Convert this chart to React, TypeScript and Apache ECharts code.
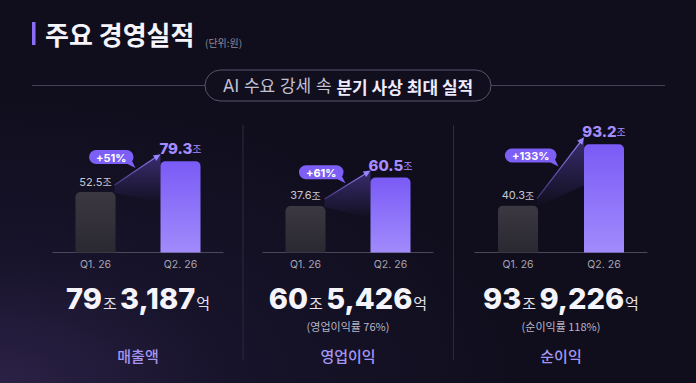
import React, { useEffect, useRef } from "react";
import * as echarts from "echarts";

// Quarterly figures (unit: 조원)
const categories = ["Q1. 26", "Q2. 26"];
const revenue = [52.5, 79.3];
const operatingProfit = [37.6, 60.5];
const netProfit = [40.3, 93.2];

const growthLabels = ["+51%", "+61%", "+133%"];
const panelTitles = ["매출액", "영업이익", "순이익"];
const totalJo = ["79", "60", "93"];
const totalEok = ["3,187", "5,426", "9,226"];
const marginNotes = ["", "(영업이익률 76%)", "(순이익률 118%)"];

const FONT = "Inter, 'Noto Sans CJK KR', 'Noto Sans', sans-serif";
const KR = "'Noto Sans CJK KR', 'Noto Sans', sans-serif";
const PURPLE = "#7d5ff5";
const LAVENDER = "#a68cff";

const panels = [
  { left: 53, width: 170, max: 115 },
  { left: 263, width: 170, max: 107 },
  { left: 475, width: 172, max: 114 },
];
const GRID_TOP = 120;
const GRID_H = 132.5;

function measure(text: string, font: string): number {
  const ctx = document.createElement("canvas").getContext("2d");
  if (!ctx) return text.length * 7;
  ctx.font = font;
  return ctx.measureText(text).width;
}

export default function App() {
  const ref = useRef<HTMLDivElement>(null);

  useEffect(() => {
    if (!ref.current) return;
    const chart = echarts.init(ref.current, null, { renderer: "svg" });
    const seriesData = [revenue, operatingProfit, netProfit];

    const q1Bar = {
      color: new echarts.graphic.LinearGradient(0, 0, 0, 1, [
        { offset: 0, color: "#3b3842" },
        { offset: 1, color: "#2a2830" },
      ]),
      borderRadius: [5, 5, 0, 0],
    };
    const q2Bar = {
      color: new echarts.graphic.LinearGradient(0, 0, 0, 1, [
        { offset: 0, color: "#7a5bf6" },
        { offset: 1, color: "#a18bfc" },
      ]),
      borderRadius: [5, 5, 0, 0],
    };

    chart.setOption({
      animation: false,
      backgroundColor: {
        type: "radial",
        x: 0,
        y: 1,
        r: 0.75,
        colorStops: [
          { offset: 0, color: "#2b2146" },
          { offset: 0.45, color: "#17132a" },
          { offset: 1, color: "#100e1d" },
        ],
      },
      textStyle: { fontFamily: FONT },
      grid: panels.map((p) => ({
        left: p.left,
        width: p.width,
        top: GRID_TOP,
        height: GRID_H,
      })),
      xAxis: panels.map((_, i) => ({
        type: "category",
        gridIndex: i,
        data: categories,
        axisLine: { lineStyle: { color: "#4b4959", width: 1 } },
        axisTick: { show: false },
        axisLabel: { color: "#a7a4b2", fontSize: 10.5, margin: 7, fontFamily: FONT },
      })),
      yAxis: panels.map((p, i) => ({
        type: "value",
        gridIndex: i,
        min: 0,
        max: p.max,
        show: false,
        splitLine: { show: false },
      })),
      series: seriesData.map((vals, i) => ({
        type: "bar",
        xAxisIndex: i,
        yAxisIndex: i,
        barWidth: 40,
        data: [
          {
            value: vals[0],
            itemStyle: q1Bar,
            label: {
              show: true,
              position: "top",
              distance: 5,
              formatter: `{v|${vals[0]}}{u|조}`,
              rich: {
                v: { fontSize: 11, color: "#c9c6d1", fontFamily: FONT },
                u: { fontSize: 10, color: "#c9c6d1", fontFamily: KR },
              },
            },
          },
          {
            value: vals[1],
            itemStyle: q2Bar,
            label: {
              show: true,
              position: "top",
              distance: 5,
              formatter: `{v|${vals[1]}}{u|조}`,
              rich: {
                v: { fontSize: 15, fontWeight: 800, color: LAVENDER, fontFamily: FONT },
                u: { fontSize: 10, color: LAVENDER, fontFamily: KR },
              },
            },
          },
        ],
      })),
    });

    const graphics: any[] = [
      // title
      { type: "rect", shape: { x: 32, y: 22, width: 3.5, height: 23 }, style: { fill: "#8b6cf7" } },
      {
        type: "text",
        x: 45,
        y: 33,
        style: {
          text: "주요 경영실적",
          font: `bold 26px ${KR}`,
          fill: "#f5f4fa",
          textVerticalAlign: "middle",
        },
      },
      {
        type: "text",
        x: 205,
        y: 42,
        style: {
          text: "(단위:원)",
          font: `10px ${KR}`,
          fill: "#8e8b9c",
          textVerticalAlign: "middle",
        },
      },
      // subtitle pill
      { type: "line", shape: { x1: 32, y1: 85.5, x2: 205, y2: 85.5 }, style: { stroke: "#45435a", lineWidth: 1 } },
      { type: "line", shape: { x1: 491, y1: 85.5, x2: 665, y2: 85.5 }, style: { stroke: "#45435a", lineWidth: 1 } },
      {
        type: "rect",
        shape: { x: 205, y: 70, width: 286, height: 31, r: 15.5 },
        style: { fill: "#110f1e", stroke: "#57546c", lineWidth: 1 },
      },
      {
        type: "text",
        x: 348,
        y: 86,
        style: {
          text: "{a|AI 수요 강세 속 }{b|분기 사상 최대 실적}",
          textAlign: "center",
          textVerticalAlign: "middle",
          rich: {
            a: { fontSize: 17, fill: "#c4c1d3", fontFamily: FONT },
            b: { fontSize: 17, fontWeight: "bold", fill: "#efebff", fontFamily: KR },
          },
        },
      },
      // dividers
      { type: "line", shape: { x1: 243, y1: 125, x2: 243, y2: 360 }, style: { stroke: "#2c2a40", lineWidth: 1 } },
      { type: "line", shape: { x1: 453.5, y1: 125, x2: 453.5, y2: 360 }, style: { stroke: "#2c2a40", lineWidth: 1 } },
    ];

    seriesData.forEach((vals, i) => {
      const p = panels[i];
      const cx = p.left + p.width / 2;
      const a = chart.convertToPixel({ xAxisIndex: i, yAxisIndex: i }, [0, vals[0]]) as number[];
      const b = chart.convertToPixel({ xAxisIndex: i, yAxisIndex: i }, [1, vals[1]]) as number[];
      const start = [a[0] + 19, a[1] - 7];
      const end = [b[0] - 20, b[1] - 7];
      const dx = end[0] - start[0];
      const dy = end[1] - start[1];
      const len = Math.sqrt(dx * dx + dy * dy);
      const ux = dx / len;
      const uy = dy / len;
      const nx = -uy;
      const ny = ux;

      // shaded wedge under the growth arrow
      graphics.push({
        type: "polygon",
        shape: {
          points: [start, end, [end[0], end[1] + 48], [start[0], start[1] + 8]],
        },
        style: {
          fill: new echarts.graphic.LinearGradient(0, 0, 0, 1, [
            { offset: 0, color: "rgba(125,95,245,0.38)" },
            { offset: 1, color: "rgba(125,95,245,0)" },
          ]),
        },
      });
      graphics.push({
        type: "line",
        shape: { x1: start[0], y1: start[1], x2: end[0] - ux * 4, y2: end[1] - uy * 4 },
        style: {
          stroke: new echarts.graphic.LinearGradient(
            start[0], start[1], end[0], end[1],
            [
              { offset: 0, color: "rgba(140,115,255,0.35)" },
              { offset: 1, color: "#9b84ff" },
            ],
            true
          ),
          lineWidth: 1.2,
        },
      });
      graphics.push({
        type: "polygon",
        shape: {
          points: [
            end,
            [end[0] - ux * 7 + nx * 3.2, end[1] - uy * 7 + ny * 3.2],
            [end[0] - ux * 7 - nx * 3.2, end[1] - uy * 7 - ny * 3.2],
          ],
        },
        style: { fill: "#9b84ff" },
      });

      // growth badge
      const mid = [(start[0] + end[0]) / 2, (start[1] + end[1]) / 2];
      const tw = measure(growthLabels[i], `bold 11px Inter`);
      const bw = tw + 14;
      const bh = 14;
      const right = mid[0] - 4;
      const top = mid[1] - 12.5 - bh / 2;
      const bottom = top + bh;
      graphics.push({
        type: "polygon",
        shape: {
          points: [
            [right - 10, bottom - 2],
            [right - 2, bottom - 4],
            [right + 2, bottom + 4],
          ],
        },
        style: { fill: PURPLE },
      });
      graphics.push({
        type: "rect",
        shape: { x: right - bw, y: top, width: bw, height: bh, r: 7 },
        style: { fill: PURPLE },
      });
      graphics.push({
        type: "text",
        x: right - bw / 2,
        y: top + bh / 2 + 0.5,
        style: {
          text: growthLabels[i],
          font: `bold 11px ${FONT}`,
          fill: "#ffffff",
          textAlign: "center",
          textVerticalAlign: "middle",
        },
      });

      // totals
      graphics.push({
        type: "text",
        x: cx,
        y: 298,
        style: {
          text: `{n|${totalJo[i]}}{u|조} {n|${totalEok[i]}}{u|억}`,
          textAlign: "center",
          textVerticalAlign: "middle",
          rich: {
            n: { fontSize: 29, fontWeight: 800, fill: "#f5f4fa", fontFamily: FONT },
            u: { fontSize: 15, fill: "#e3e1ea", fontFamily: KR, verticalAlign: "bottom", padding: [0, 0, 3, 1] },
          },
        },
      });
      if (marginNotes[i]) {
        graphics.push({
          type: "text",
          x: cx,
          y: 326,
          style: {
            text: marginNotes[i],
            font: `11px ${KR}`,
            fill: "#b9b6c6",
            textAlign: "center",
            textVerticalAlign: "middle",
          },
        });
      }
      graphics.push({
        type: "text",
        x: cx,
        y: 355,
        style: {
          text: panelTitles[i],
          font: `500 15px ${KR}`,
          fill: "#a496f2",
          textAlign: "center",
          textVerticalAlign: "middle",
        },
      });
    });

    chart.setOption({ graphic: graphics });
    return () => chart.dispose();
  }, []);

  return (
    <div
      ref={ref}
      style={{ position: "absolute", left: 0, top: 0, width: 696, height: 383 }}
    />
  );
}
